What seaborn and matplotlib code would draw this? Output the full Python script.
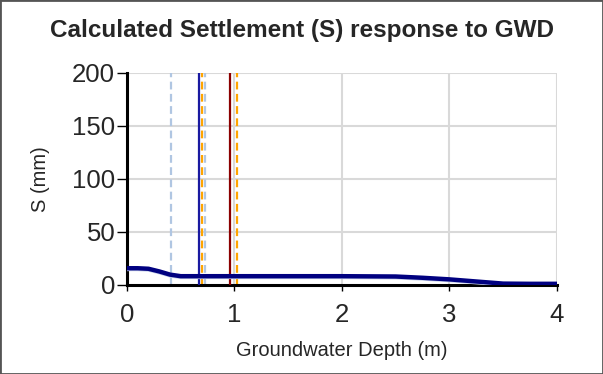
import matplotlib
matplotlib.use("Agg")
import matplotlib.pyplot as plt
import seaborn as sns
import pandas as pd
from matplotlib.patches import Rectangle

# Settlement response curve
gwd_m = [0.0, 0.1, 0.2, 0.3, 0.4, 0.5, 1.0, 1.5, 2.0, 2.5, 2.75, 3.0, 3.25, 3.5, 3.75, 4.0]
settlement_mm = [15.0, 15.0, 14.5, 12.0, 9.0, 7.5, 7.5, 7.5, 7.5, 7.2, 6.0, 4.5, 2.5, 0.5, 0.3, 0.3]

# Reference depth markers
solid_depths = [0.667, 0.96]
solid_colors = ["#1a1aa0", "#8b0000"]
dashed_depths = [0.41, 0.73, 0.70, 1.026]
dashed_colors = ["#b0c6e2", "#b0c6e2", "#ffa500", "#ffa500"]

x_ticks = [0, 1, 2, 3, 4]
y_ticks = [0, 50, 100, 150, 200]

sns.set_theme(style="white")
plt.rcParams["font.family"] = ["Liberation Sans", "DejaVu Sans"]

fig = plt.figure(figsize=(6.03, 3.74), dpi=100)
ax = fig.add_axes([0.2106, 0.238, 0.713, 0.567])

for xv in x_ticks[1:]:
    ax.axvline(xv, color="#d9d9d9", lw=1.5, zorder=0)
for yv in y_ticks[1:]:
    ax.axhline(yv, color="#d9d9d9", lw=1.5, zorder=0)

for xv, c in zip(dashed_depths, dashed_colors):
    ax.axvline(xv, color=c, lw=1.6, ls=(0, (3.5, 2)), zorder=2)
for xv, c in zip(solid_depths, solid_colors):
    ax.axvline(xv, color=c, lw=1.6, zorder=3)

df = pd.DataFrame({"GWD": gwd_m, "S": settlement_mm})
sns.lineplot(data=df, x="GWD", y="S", ax=ax, color="#c5d0ea", lw=3.0, zorder=3)
sns.lineplot(data=df.assign(S=df["S"] + 0.8), x="GWD", y="S", ax=ax,
             color="#000080", lw=3.2, zorder=4)

ax.set_xlim(0, 4)
ax.set_ylim(0, 200)
ax.set_xticks(x_ticks)
ax.set_yticks(y_ticks)
ax.tick_params(axis="both", labelsize=18.5, width=1, color="black",
               direction="out", bottom=True, left=True)
ax.tick_params(axis="y", length=7, pad=1.5)
ax.tick_params(axis="x", length=4, pad=9)
for s in ["top", "right"]:
    ax.spines[s].set_visible(False)
ax.spines["left"].set_linewidth(2.2)
ax.spines["bottom"].set_linewidth(2.2)
ax.spines["left"].set_color("black")
ax.spines["bottom"].set_color("black")

ax.set_xlabel("Groundwater Depth (m)", fontsize=14.5, labelpad=10)
ax.set_ylabel("S (mm)", fontsize=14.5)
ax.yaxis.set_label_coords(-0.18, 0.5)
fig.suptitle("Calculated Settlement (S) response to GWD", fontsize=17.5,
             fontweight="bold", x=0.5, y=0.95)

fig.patches.append(Rectangle((0, 0), 1, 1, transform=fig.transFigure,
                             fill=False, edgecolor="#555555", lw=2))

fig.savefig("out.png", dpi=100)
